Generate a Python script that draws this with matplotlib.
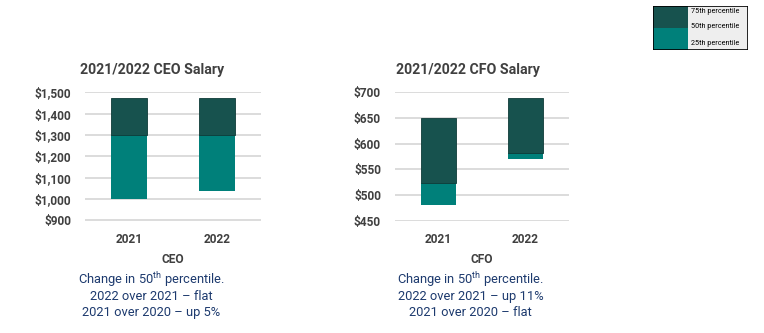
import matplotlib
matplotlib.use("Agg")
import matplotlib.pyplot as plt
from matplotlib.patches import Rectangle

# data (thousands of $)
years = ["2021", "2022"]
ceo_p25 = [1000, 1040]
ceo_p50 = [1300, 1300]
ceo_p75 = [1472, 1472]
cfo_p25 = [480, 570]
cfo_p50 = [524, 582]
cfo_p75 = [650, 688]

ceo_ticks = [900, 1000, 1100, 1200, 1300, 1400, 1500]
cfo_ticks = [450, 500, 550, 600, 650, 700]

ceo_note = ["Change in 50$^{\\mathrm{th}}$ percentile.",
            "2022 over 2021 \u2013 flat",
            "2021 over 2020 \u2013 up 5%"]
cfo_note = ["Change in 50$^{\\mathrm{th}}$ percentile.",
            "2022 over 2021 \u2013 up 11%",
            "2021 over 2020 \u2013 flat"]
legend_labels = ["75th percentile", "50th percentile", "25th percentile"]

DARK = "#17524e"
TEAL = "#00807a"
GRID = "#d9d9d9"
GRAY = "#404040"
NAVY = "#1d3a6e"
FONT = ["Roboto", "DejaVu Sans"]

plt.rcParams["mathtext.fontset"] = "custom"
plt.rcParams["mathtext.rm"] = "Roboto"

fig = plt.figure(figsize=(7.64, 3.33), dpi=100)
W, H = 764.0, 333.0


def panel(left, width, p25, p50, p75, ticks, fmt, title, title_x, xlabel):
    ax = fig.add_axes([left / W, 1 - 220.5 / H, width / W, (220.5 - 92.3) / H])
    x = range(len(years))
    lo = [b - a for a, b in zip(p25, p50)]
    hi = [b - a for a, b in zip(p50, p75)]
    ax.bar(x, lo, bottom=p25, width=0.4, color=TEAL, zorder=3)
    ax.bar(x, hi, bottom=p50, width=0.4, color=DARK, edgecolor="#0e3b38",
           linewidth=0.6, zorder=3)
    ax.set_xlim(-0.5, 1.5)
    ax.set_ylim(ticks[0], ticks[-1])
    ax.set_yticks(ticks)
    ax.set_yticklabels([fmt(t) for t in ticks])
    ax.set_xticks(list(x))
    ax.set_xticklabels(years)
    ax.grid(axis="y", color=GRID, linewidth=1.3, zorder=0)
    for s in ax.spines.values():
        s.set_visible(False)
    ax.tick_params(length=0, labelsize=8.6, labelcolor=GRAY, pad=10)
    ax.tick_params(axis="x", pad=9)
    for lab in ax.get_xticklabels() + ax.get_yticklabels():
        lab.set_fontfamily(FONT)
        lab.set_fontweight("bold")
    ax.set_xlabel(xlabel, fontsize=8.6, color=GRAY, fontfamily=FONT,
                  fontweight="bold", labelpad=5)
    fig.text(title_x / W, 1 - 70 / H, title, ha="center", va="center",
             fontsize=10.2, color=GRAY, fontfamily=FONT, fontweight="bold")
    return ax


panel(85, 176, ceo_p25, ceo_p50, ceo_p75, ceo_ticks,
      lambda v: "${:,}".format(v), "2021/2022 CEO Salary", 152, "CEO")
panel(395, 174, cfo_p25, cfo_p50, cfo_p75, cfo_ticks,
      lambda v: "${}".format(v), "2021/2022 CFO Salary", 468, "CFO")

for note, cx in [(ceo_note, 151.5), (cfo_note, 470.5)]:
    for line, cy in zip(note, [280, 296.5, 312.5]):
        fig.text(cx / W, 1 - cy / H, line, ha="center", va="center",
                 fontsize=9.3, color=NAVY, family=FONT)

# legend box in the top right corner
lg = fig.add_axes([653 / W, 1 - 50 / H, 95 / W, 44 / H])
lg.set_xlim(0, 95)
lg.set_ylim(44, 0)
lg.axis("off")
lg.add_patch(Rectangle((0, 0), 95, 44, facecolor="#eeeeee", edgecolor="none"))
lg.add_patch(Rectangle((0, 0), 35, 22.3, facecolor=DARK, edgecolor="none"))
lg.add_patch(Rectangle((0, 22.3), 35, 21.7, facecolor=TEAL, edgecolor="none"))
lg.add_patch(Rectangle((0, 0), 95, 44, facecolor="none", edgecolor="black",
                       linewidth=1.2))
for lab, yy in zip(legend_labels, [5.7, 20, 37.3]):
    lg.text(38, yy, lab, ha="left", va="center", fontsize=5.2, color="black",
            family=FONT)

fig.savefig("out.png", dpi=100)
